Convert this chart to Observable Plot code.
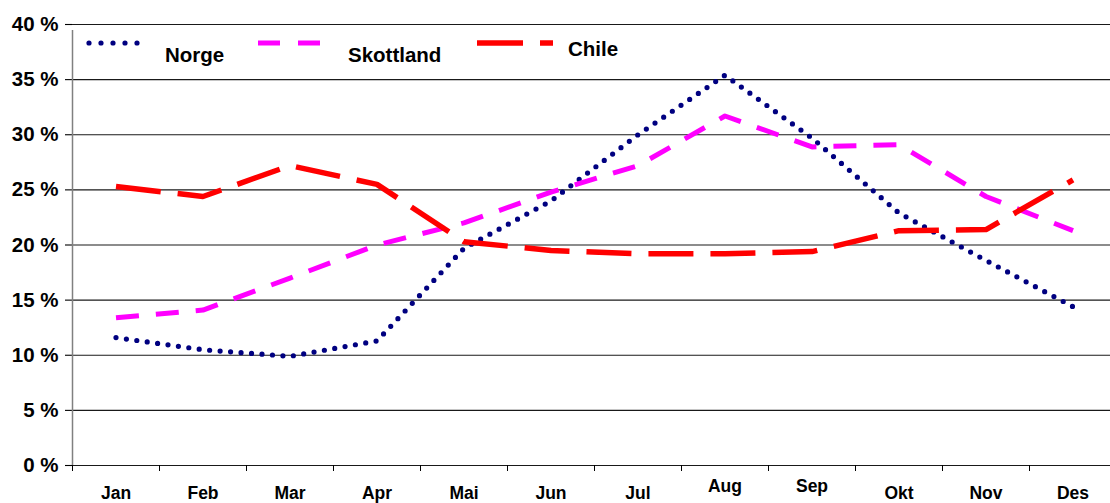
<!DOCTYPE html>
<html>
<head>
<meta charset="utf-8">
<script src="https://cdn.jsdelivr.net/npm/d3@7"></script>
<script src="https://cdn.jsdelivr.net/npm/@observablehq/plot@0.6"></script>
<style>
  html, body { margin: 0; padding: 0; background: #fff; }
  #wrap { position: relative; width: 1110px; height: 503px; overflow: hidden; font-family: "Liberation Sans", Arial, sans-serif; }
  #legend { position: absolute; left: 0; top: 0; pointer-events: none; }
</style>
</head>
<body>
<div id="wrap"></div>
<script>
const months = ["Jan","Feb","Mar","Apr","Mai","Jun","Jul","Aug","Sep","Okt","Nov","Des"];
const norge     = [11.6, 10.5, 9.9, 11.3, 19.7, 24.0, 30.0, 35.4, 29.7, 22.9, 18.6, 14.4];
const skottland = [13.4, 14.1, 17.0, 20.0, 22.0, 24.8, 27.2, 31.7, 28.9, 29.1, 24.4, 21.3];
const chile     = [25.3, 24.4, 27.2, 25.5, 20.3, 19.5, 19.2, 19.2, 19.4, 21.3, 21.4, 25.9];
const yTicks = [0, 5, 10, 15, 20, 25, 30, 35, 40];
const seriesNames = ["Norge", "Skottland", "Chile"];
const colors = ["#000080", "#FF00FF", "#FF0000"];

const rows = (vals) => vals.map((v, i) => ({i, month: months[i], v}));
const boundaries = d3.range(months.length + 1);
const monthRows = months.map((m, i) => ({i, m, raised: i === 7 || i === 8}));
const font = "Liberation Sans, Arial, sans-serif";

const chart = Plot.plot({
  width: 1110,
  height: 503,
  marginLeft: 72,
  marginRight: 0,
  marginTop: 24,
  marginBottom: 38,
  style: { fontFamily: font, background: "#fff", overflow: "hidden" },
  x: { type: "linear", domain: [0, 12], range: [72, 1116], axis: null },
  y: { domain: [0, 40], range: [465, 24], axis: null },
  marks: [
    Plot.ruleY(yTicks, { y: d => d, stroke: "#000", strokeWidth: 1.1, strokeOpacity: 0.9 }),
    Plot.ruleY(yTicks, { y: d => d, x1: 0, x2: 0, insetLeft: -7, stroke: "#000", strokeWidth: 1.1 }),
    Plot.ruleX([0], { x: 0, y1: 0, y2: 40, stroke: "#808080", strokeWidth: 1.5, insetBottom: -6 }),
    Plot.ruleX(boundaries, { x: d => d, y1: 0, y2: 0, insetBottom: -6, stroke: "#000", strokeWidth: 1 }),
    Plot.text(yTicks, { x: 0, y: d => d, text: d => d + " %", dx: -14, textAnchor: "end", fontSize: 20.5, fontWeight: "bold", fill: "#000" }),
    Plot.text(monthRows.filter(d => !d.raised), { x: d => d.i + 0.5, y: 0, text: "m", dy: 28, fontSize: 17.5, fontWeight: "bold", fill: "#000" }),
    Plot.text(monthRows.filter(d => d.raised), { x: d => d.i + 0.5, y: 0, text: "m", dy: 21, fontSize: 17.5, fontWeight: "bold", fill: "#000" }),
    Plot.line(rows(norge), { x: d => d.i + 0.5, y: "v", stroke: colors[0], strokeWidth: 5.2, strokeDasharray: "0 10.5", strokeLinecap: "round" }),
    Plot.line(rows(skottland), { x: d => d.i + 0.5, y: "v", stroke: colors[1], strokeWidth: 5, strokeDasharray: "23 17", strokeLinecap: "butt" }),
    Plot.line(rows(chile), { x: d => d.i + 0.5, y: "v", stroke: colors[2], strokeWidth: 5.5, strokeDasharray: "45 17", strokeLinecap: "butt" })
  ]
});

const wrap = document.getElementById("wrap");
wrap.appendChild(chart);

// legend overlay
const ns = "http://www.w3.org/2000/svg";
const leg = document.createElementNS(ns, "svg");
leg.setAttribute("id", "legend");
leg.setAttribute("width", 1110);
leg.setAttribute("height", 503);
const legendItems = [
  { name: seriesNames[0], color: colors[0], x1: 89, x2: 139, dash: "0 12", w: 5.2, cap: "round", tx: 165, ty: 62 },
  { name: seriesNames[1], color: colors[1], x1: 258, x2: 320, dash: "22 18", w: 5, cap: "butt", tx: 348, ty: 62 },
  { name: seriesNames[2], color: colors[2], x1: 477, x2: 553, dash: "46 17", w: 5.5, cap: "butt", tx: 568, ty: 56 }
];
legendItems.forEach(it => {
  const l = document.createElementNS(ns, "line");
  l.setAttribute("x1", it.x1); l.setAttribute("x2", it.x2);
  l.setAttribute("y1", 43); l.setAttribute("y2", 43);
  l.setAttribute("stroke", it.color); l.setAttribute("stroke-width", it.w);
  l.setAttribute("stroke-dasharray", it.dash); l.setAttribute("stroke-linecap", it.cap);
  leg.appendChild(l);
  const t = document.createElementNS(ns, "text");
  t.setAttribute("x", it.tx); t.setAttribute("y", it.ty);
  t.setAttribute("font-family", font); t.setAttribute("font-size", 20.5);
  t.setAttribute("font-weight", "bold"); t.setAttribute("fill", "#000");
  t.textContent = it.name;
  leg.appendChild(t);
});
wrap.appendChild(leg);
</script>
</body>
</html>
